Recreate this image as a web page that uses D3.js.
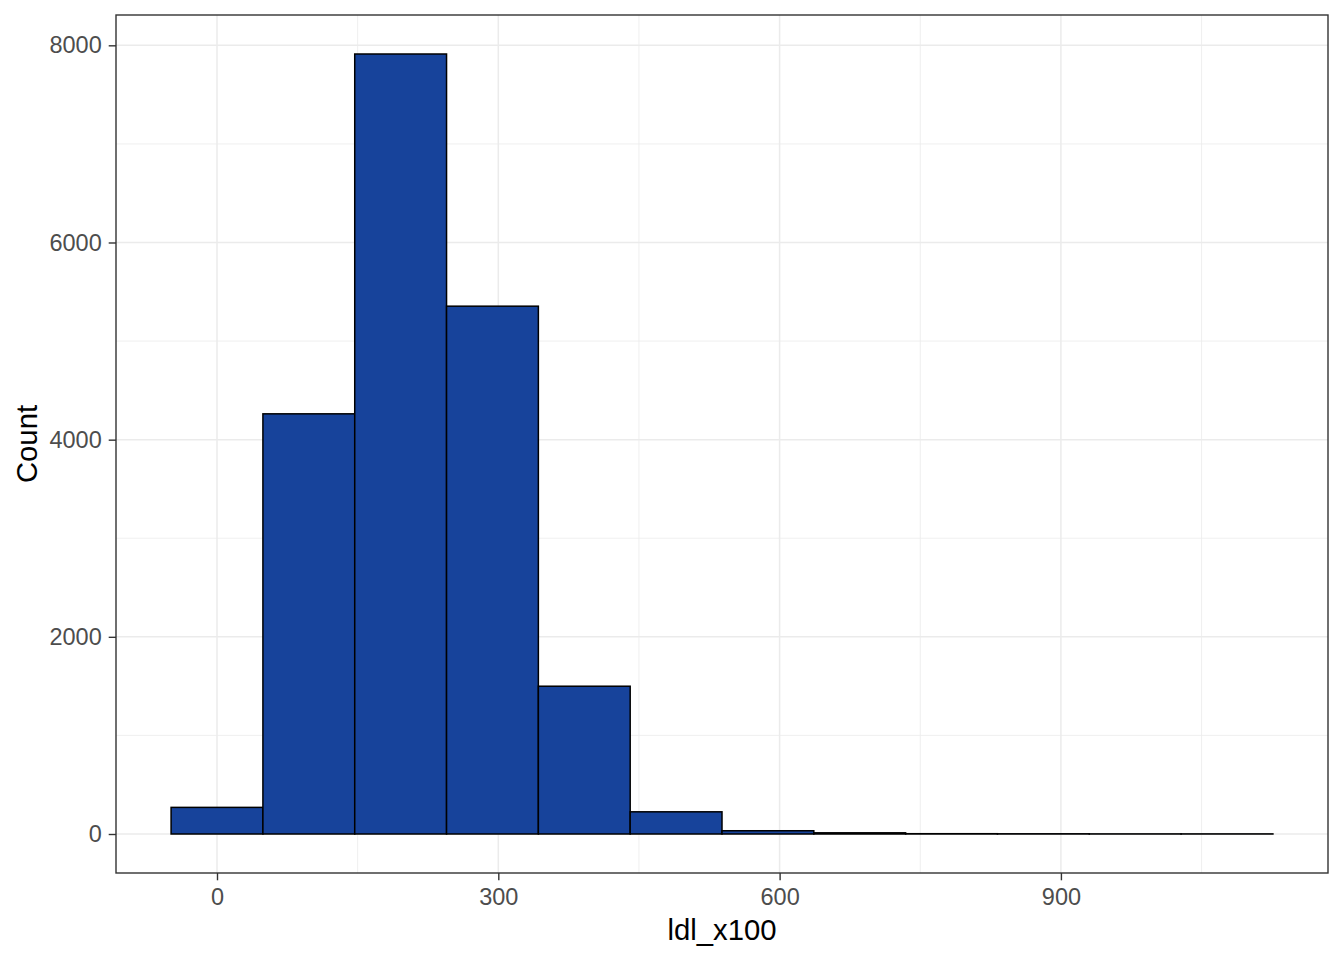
<!DOCTYPE html>
<html><head><meta charset="utf-8">
<script src="https://cdn.jsdelivr.net/npm/d3@7"></script>
<style>body{margin:0;background:#fff;} svg{display:block;}</style>
</head><body>
<svg id="chart" width="1344" height="960"></svg>
<script>
// Histogram data (bins=12)
const binEdges = [-48.96, 48.96, 146.88, 244.8, 342.72, 440.64, 538.56, 636.48, 734.4, 832.32, 930.24, 1028.16, 1126.08];
const counts = [270, 4262, 7912, 5354, 1499, 225, 33, 12, 3, 2, 1, 1];
const xTicks = [0, 300, 600, 900];
const xMinor = [150, 450, 750, 1050];
const yTicks = [0, 2000, 4000, 6000, 8000];
const yMinor = [1000, 3000, 5000, 7000];
const xLabel = "ldl_x100";
const yLabel = "Count";

const bins = counts.map((c, i) => ({x0: binEdges[i], x1: binEdges[i + 1], n: c}));

const svg = d3.select("#chart");
const panel = {l: 116, t: 15, r: 1328, b: 873};

const xmin = binEdges[0], xmax = binEdges[binEdges.length - 1];
const xpad = (xmax - xmin) * 0.05;
const ymax = d3.max(counts);
const ypad = ymax * 0.05;

const x = d3.scaleLinear().domain([xmin - xpad, xmax + xpad]).range([panel.l, panel.r]);
const y = d3.scaleLinear().domain([-ypad, ymax + ypad]).range([panel.b, panel.t]);

const g = svg.append("g");
g.append("rect").attr("x", panel.l).attr("y", panel.t)
  .attr("width", panel.r - panel.l).attr("height", panel.b - panel.t).attr("fill", "#fff");

// minor grid
g.selectAll(".xminor").data(xMinor).join("line")
  .attr("x1", d => x(d)).attr("x2", d => x(d)).attr("y1", panel.t).attr("y2", panel.b)
  .attr("stroke", "#ebebeb").attr("stroke-width", 0.8);
g.selectAll(".yminor").data(yMinor).join("line")
  .attr("y1", d => y(d)).attr("y2", d => y(d)).attr("x1", panel.l).attr("x2", panel.r)
  .attr("stroke", "#ebebeb").attr("stroke-width", 0.8);
// major grid
g.selectAll(".xmajor").data(xTicks).join("line")
  .attr("x1", d => x(d)).attr("x2", d => x(d)).attr("y1", panel.t).attr("y2", panel.b)
  .attr("stroke", "#ebebeb").attr("stroke-width", 1.5);
g.selectAll(".ymajor").data(yTicks).join("line")
  .attr("y1", d => y(d)).attr("y2", d => y(d)).attr("x1", panel.l).attr("x2", panel.r)
  .attr("stroke", "#ebebeb").attr("stroke-width", 1.5);

// bars
g.selectAll(".bar").data(bins).join("rect")
  .attr("x", d => x(d.x0)).attr("width", d => x(d.x1) - x(d.x0))
  .attr("y", d => y(d.n)).attr("height", d => y(0) - y(d.n))
  .attr("fill", "#17439b").attr("stroke", "#000").attr("stroke-width", 1.5);

// panel border
g.append("rect").attr("x", panel.l).attr("y", panel.t)
  .attr("width", panel.r - panel.l).attr("height", panel.b - panel.t)
  .attr("fill", "none").attr("stroke", "#333333").attr("stroke-width", 1.4);

// axes
const fmt = d3.format("d");
const xAxis = d3.axisBottom(x).tickValues(xTicks).tickFormat(fmt).tickSize(7.3).tickPadding(8);
const yAxis = d3.axisLeft(y).tickValues(yTicks).tickFormat(fmt).tickSize(7.3).tickPadding(7);
const fontFam = "'Liberation Sans', Arial, sans-serif";

const gx = svg.append("g").attr("transform", `translate(0,${panel.b})`).call(xAxis);
const gy = svg.append("g").attr("transform", `translate(${panel.l},0)`).call(yAxis);
[gx, gy].forEach(a => {
  a.select(".domain").remove();
  a.selectAll(".tick line").attr("stroke", "#333333").attr("stroke-width", 1.4);
  a.selectAll(".tick text").attr("fill", "#4d4d4d").style("font-family", fontFam).style("font-size", "23.5px");
});

svg.append("text").attr("x", (panel.l + panel.r) / 2).attr("y", 940)
  .attr("text-anchor", "middle").style("font-family", fontFam).style("font-size", "29.3px")
  .attr("fill", "#000").text(xLabel);
svg.append("text").attr("transform", `translate(37,${(panel.t + panel.b) / 2}) rotate(-90)`)
  .attr("text-anchor", "middle").style("font-family", fontFam).style("font-size", "29.3px")
  .attr("fill", "#000").text(yLabel);
</script>
</body></html>
